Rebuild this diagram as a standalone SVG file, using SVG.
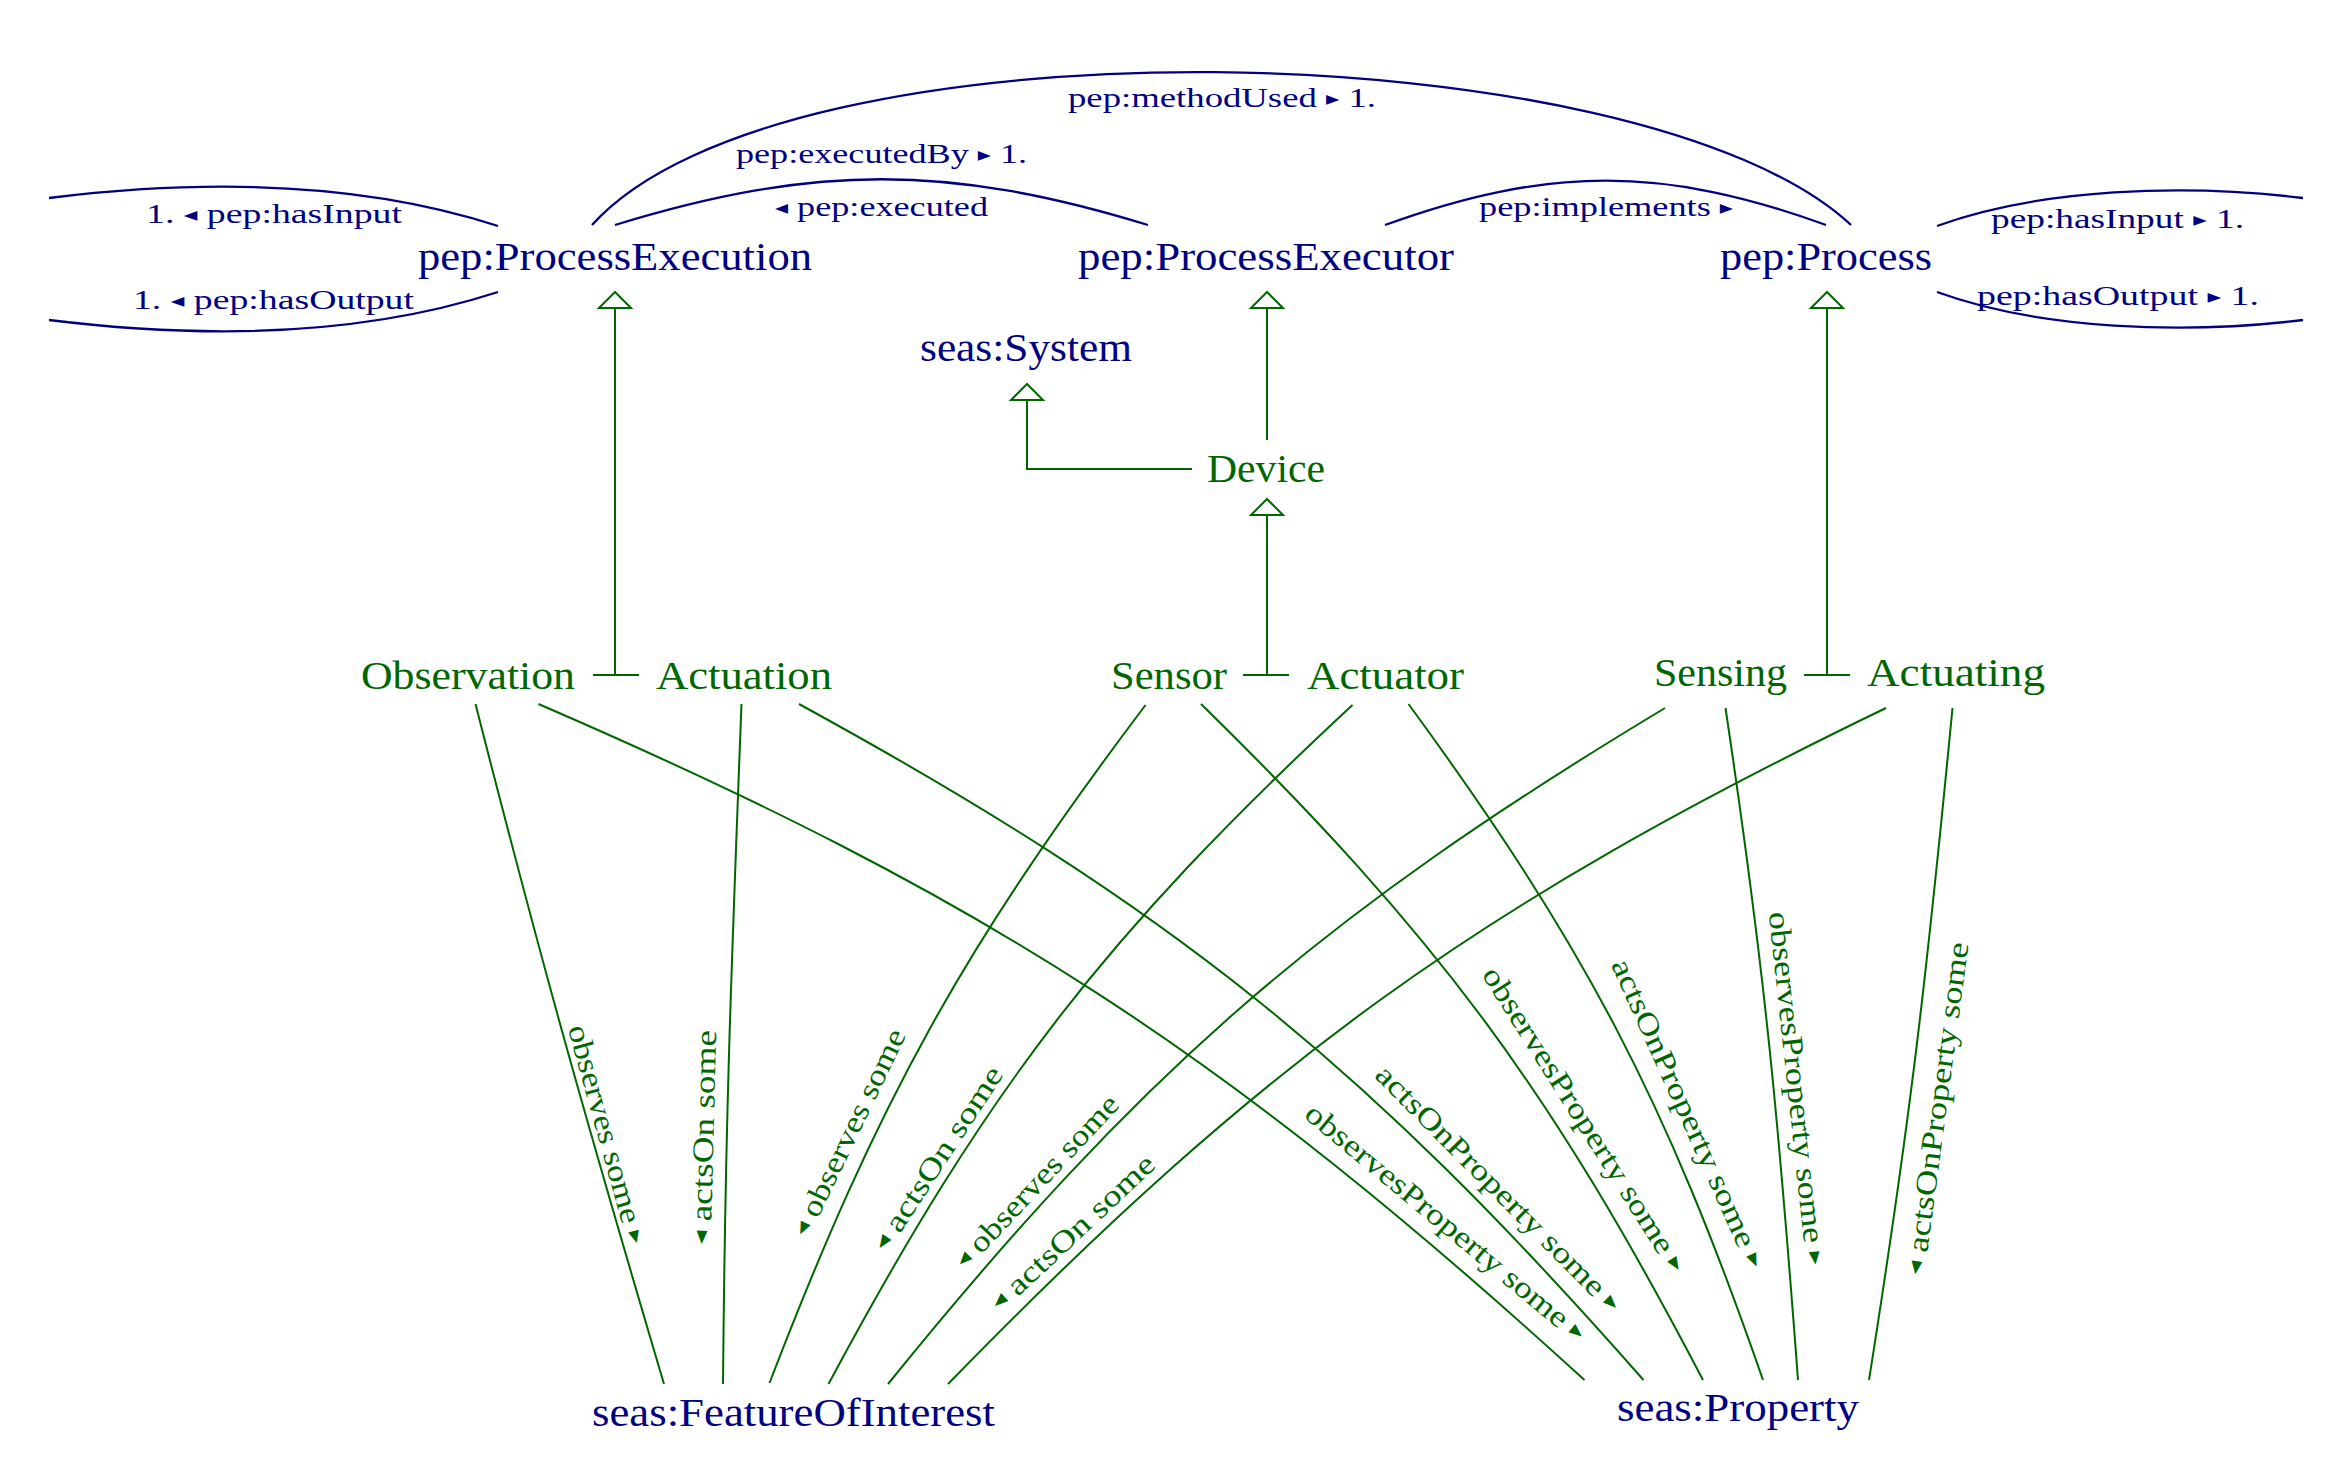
<svg xmlns="http://www.w3.org/2000/svg" width="2352" height="1467" viewBox="0 0 2352 1467">
<style>
  text { font-family: "Liberation Serif", "DejaVu Serif", serif; }
  .navy { fill: #000080; }
  .green { fill: #006600; }
  .node { font-size: 40px; }
  .tl { font-size: 27px; fill: #000080; }
  .el { font-size: 30px; fill: #006600; text-anchor: middle; dominant-baseline: central; }
  .tri { font-size: 72%; }
  .arc { fill: none; stroke: #000080; stroke-width: 2.3; }
  .edge { fill: none; stroke: #006600; stroke-width: 2; }
  .gen { fill: none; stroke: #006600; stroke-width: 2; marker-start: url(#genArrow); }
</style>
<defs>
  <marker id="genArrow" markerUnits="userSpaceOnUse" viewBox="-19 -19 22 38" markerWidth="22" markerHeight="38" refX="0" refY="0" orient="auto-start-reverse" overflow="visible">
    <path d="M0,0 L-16,-16 L-16,16 Z" fill="#ffffff" stroke="#006600" stroke-width="2" stroke-linejoin="miter"/>
  </marker>
</defs>
<rect width="2352" height="1467" fill="#ffffff"/>

<g id="connectors">
  <!-- object property arcs (navy) -->
  <path class="arc" d="M592,225 C783.4,12.5 1641.8,30 1851,225"/>
  <path class="arc" d="M615,225 C814.6,164 948.4,164 1148,225"/>
  <path class="arc" d="M1385,225 C1547.3,165.9 1663.7,165.9 1826,225"/>
  <path class="arc" d="M498,226 C355.3,179.6 197.9,179.7 49,198"/>
  <path class="arc" d="M498,292 C355.3,338.4 197.9,338.3 49,320"/>
  <path class="arc" d="M1937,226 C2040.4,188.4 2183.9,183.4 2303,198"/>
  <path class="arc" d="M1937,292 C2040.4,329.6 2183.9,334.6 2303,320"/>
  <text class="tl" x="1068" y="107" textLength="308" lengthAdjust="spacingAndGlyphs">pep:methodUsed <tspan class="tri" baseline-shift="2">▸</tspan> 1.</text>
  <text class="tl" x="736" y="163" textLength="291" lengthAdjust="spacingAndGlyphs">pep:executedBy <tspan class="tri" baseline-shift="2">▸</tspan> 1.</text>
  <text class="tl" x="775" y="216" textLength="213" lengthAdjust="spacingAndGlyphs"><tspan class="tri" baseline-shift="2">◂</tspan> pep:executed</text>
  <text class="tl" x="1479" y="216" textLength="254" lengthAdjust="spacingAndGlyphs">pep:implements <tspan class="tri" baseline-shift="2">▸</tspan></text>
  <text class="tl" x="146" y="223" textLength="256" lengthAdjust="spacingAndGlyphs">1. <tspan class="tri" baseline-shift="2">◂</tspan> pep:hasInput</text>
  <text class="tl" x="133" y="309" textLength="281" lengthAdjust="spacingAndGlyphs">1. <tspan class="tri" baseline-shift="2">◂</tspan> pep:hasOutput</text>
  <text class="tl" x="1991" y="228" textLength="253" lengthAdjust="spacingAndGlyphs">pep:hasInput <tspan class="tri" baseline-shift="2">▸</tspan> 1.</text>
  <text class="tl" x="1977" y="305" textLength="282" lengthAdjust="spacingAndGlyphs">pep:hasOutput <tspan class="tri" baseline-shift="2">▸</tspan> 1.</text>

  <!-- subclass (generalisation) links -->
  <path class="gen" d="M615,292 V675 M593,675 H639"/>
  <path class="gen" d="M1027,384 V469 H1192"/>
  <path class="gen" d="M1267,292 V440"/>
  <path class="gen" d="M1267,499 V675 M1243,675 H1289"/>
  <path class="gen" d="M1827,292 V675 M1804,675 H1850"/>

  <!-- restriction edges (green) -->
  <path class="edge" d="M475.5,704 C543.7,971.6 585.6,1119.2 664,1384"/>
  <path class="edge" d="M741.5,704 C731.3,970.1 725.3,1117.7 723,1384"/>
  <path class="edge" d="M1145.5,705 C962.9,947.4 878.3,1099.7 769.5,1383"/>
  <path class="edge" d="M1352.5,705 C1106.3,933.3 987,1087.9 828.5,1384"/>
  <path class="edge" d="M1665,708 C1319.5,915.8 1141.6,1070.6 888,1384"/>
  <path class="edge" d="M1886,708 C1478.3,904.9 1263.8,1059.7 948,1384"/>
  <path class="edge" d="M538.5,704 C986.1,897.4 1224.3,1051.4 1584.5,1380"/>
  <path class="edge" d="M799,704 C1170.5,907.2 1363.8,1062 1643.5,1380"/>
  <path class="edge" d="M1201,704 C1436.5,934.6 1550.3,1087.9 1703,1380"/>
  <path class="edge" d="M1408.5,704 C1584.9,945.2 1664.9,1097.8 1763,1380"/>
  <path class="edge" d="M1725.5,708 C1764.6,969.7 1778.2,1116.1 1798,1380"/>
  <path class="edge" d="M1952.5,708 C1927.1,971.9 1910.5,1118.2 1869,1380"/>

  <text class="el" transform="translate(608,1134) rotate(74.5)" textLength="226" lengthAdjust="spacingAndGlyphs">observes some <tspan class="tri">▸</tspan></text>
  <text class="el" transform="translate(703,1137) rotate(-88.5)" textLength="214" lengthAdjust="spacingAndGlyphs"><tspan class="tri">◂</tspan> actsOn some</text>
  <text class="el" transform="translate(848,1132) rotate(-64.3)" textLength="226" lengthAdjust="spacingAndGlyphs"><tspan class="tri">◂</tspan> observes some</text>
  <text class="el" transform="translate(937,1158) rotate(-56.8)" textLength="214" lengthAdjust="spacingAndGlyphs"><tspan class="tri">◂</tspan> actsOn some</text>
  <text class="el" transform="translate(1036,1181) rotate(-46.9)" textLength="226" lengthAdjust="spacingAndGlyphs"><tspan class="tri">◂</tspan> observes some</text>
  <text class="el" transform="translate(1072,1232) rotate(-43.2)" textLength="214" lengthAdjust="spacingAndGlyphs"><tspan class="tri">◂</tspan> actsOn some</text>
  <text class="el" transform="translate(1446,1222) rotate(39.7)" textLength="355" lengthAdjust="spacingAndGlyphs">observesProperty some <tspan class="tri">▸</tspan></text>
  <text class="el" transform="translate(1499,1188) rotate(45.2)" textLength="335" lengthAdjust="spacingAndGlyphs">actsOnProperty some <tspan class="tri">▸</tspan></text>
  <text class="el" transform="translate(1585,1119) rotate(57.7)" textLength="355" lengthAdjust="spacingAndGlyphs">observesProperty some <tspan class="tri">▸</tspan></text>
  <text class="el" transform="translate(1689,1113) rotate(65.8)" textLength="335" lengthAdjust="spacingAndGlyphs">actsOnProperty some <tspan class="tri">▸</tspan></text>
  <text class="el" transform="translate(1798,1088) rotate(83.9)" textLength="355" lengthAdjust="spacingAndGlyphs">observesProperty some <tspan class="tri">▸</tspan></text>
  <text class="el" transform="translate(1936,1108) rotate(-82.4)" textLength="335" lengthAdjust="spacingAndGlyphs"><tspan class="tri">◂</tspan> actsOnProperty some</text>
</g>

<g id="node-ProcessExecution"><text class="node navy" x="418" y="270" textLength="394" lengthAdjust="spacingAndGlyphs">pep:ProcessExecution</text></g>
<g id="node-ProcessExecutor"><text class="node navy" x="1078" y="270" textLength="376" lengthAdjust="spacingAndGlyphs">pep:ProcessExecutor</text></g>
<g id="node-Process"><text class="node navy" x="1720" y="270" textLength="212" lengthAdjust="spacingAndGlyphs">pep:Process</text></g>
<g id="node-System"><text class="node navy" x="920" y="361" textLength="212" lengthAdjust="spacingAndGlyphs">seas:System</text></g>
<g id="node-Device"><text class="node green" x="1207" y="482" textLength="118" lengthAdjust="spacingAndGlyphs">Device</text></g>
<g id="node-Observation"><text class="node green" x="361" y="689" textLength="214" lengthAdjust="spacingAndGlyphs">Observation</text></g>
<g id="node-Actuation"><text class="node green" x="656" y="689" textLength="176" lengthAdjust="spacingAndGlyphs">Actuation</text></g>
<g id="node-Sensor"><text class="node green" x="1111" y="689" textLength="116" lengthAdjust="spacingAndGlyphs">Sensor</text></g>
<g id="node-Actuator"><text class="node green" x="1307" y="689" textLength="157" lengthAdjust="spacingAndGlyphs">Actuator</text></g>
<g id="node-Sensing"><text class="node green" x="1654" y="686" textLength="133" lengthAdjust="spacingAndGlyphs">Sensing</text></g>
<g id="node-Actuating"><text class="node green" x="1867" y="686" textLength="178" lengthAdjust="spacingAndGlyphs">Actuating</text></g>
<g id="node-FeatureOfInterest"><text class="node navy" x="592" y="1426" textLength="403" lengthAdjust="spacingAndGlyphs">seas:FeatureOfInterest</text></g>
<g id="node-Property"><text class="node navy" x="1617" y="1421" textLength="242" lengthAdjust="spacingAndGlyphs">seas:Property</text></g>
</svg>
